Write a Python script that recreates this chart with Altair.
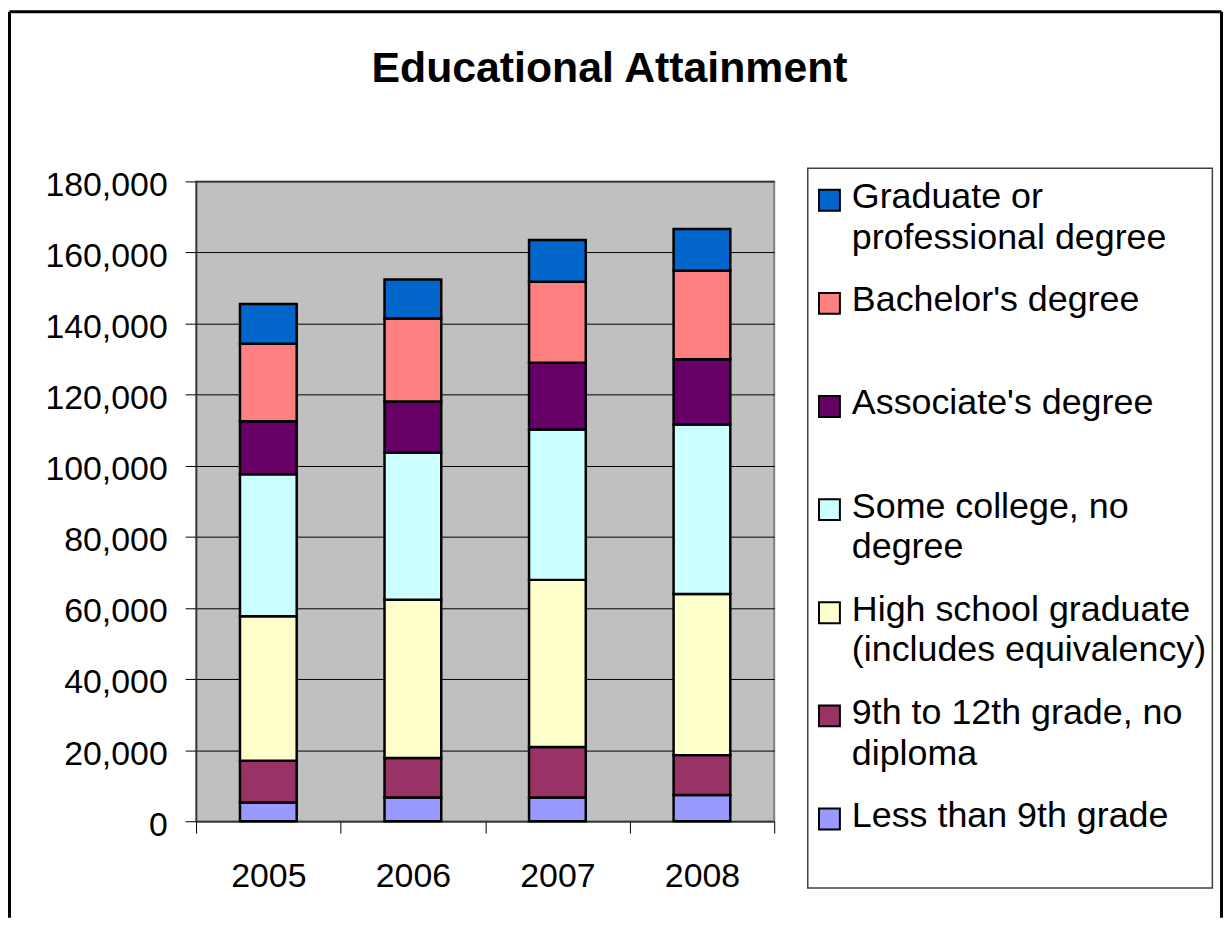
import altair as alt
import pandas as pd

FONT = "Liberation Sans, Arial, sans-serif"

years = ["2005", "2006", "2007", "2008"]

categories = [
    "Less than 9th grade",
    "9th to 12th grade, no diploma",
    "High school graduate (includes equivalency)",
    "Some college, no degree",
    "Associate's degree",
    "Bachelor's degree",
    "Graduate or professional degree",
]

less_than_9th = [5300, 6700, 6700, 7400]
grade_9_to_12 = [11700, 11100, 14200, 11200]
high_school = [40700, 44500, 47000, 45300]
some_college = [39900, 41400, 42300, 47700]
associate = [14900, 14400, 18800, 18400]
bachelor = [21800, 23300, 22800, 24900]
graduate = [11200, 11000, 11700, 11700]

series = [less_than_9th, grade_9_to_12, high_school, some_college,
          associate, bachelor, graduate]

colors = ["#9999FF", "#993366", "#FFFFCC", "#CCFFFF",
          "#660066", "#FF8080", "#0066CC"]

legend_text = [
    "Less than 9th grade",
    "9th to 12th grade, no\ndiploma",
    "High school graduate\n(includes equivalency)",
    "Some college, no\ndegree",
    "Associate's degree",
    "Bachelor's degree",
    "Graduate or\nprofessional degree",
]

y_ticks = list(range(0, 180001, 20000))

rows = []
for ci, (cat, vals) in enumerate(zip(categories, series)):
    for y, v in zip(years, vals):
        rows.append({"year": y, "category": cat, "value": v, "ord": ci})
df = pd.DataFrame(rows)

leg = pd.DataFrame({
    "category": categories,
    "label": legend_text,
    "idx": [6 - i for i in range(len(categories))],
})

color_scale = alt.Scale(domain=categories, range=colors)

bars = alt.Chart(df).mark_bar(size=57, stroke="black", strokeWidth=2.5).encode(
    x=alt.X("year:N", title=None, sort=years,
            scale=alt.Scale(paddingInner=0, paddingOuter=0),
            axis=alt.Axis(labelAngle=0, tickBand="extent", tickSize=12,
                          labelPadding=27, labelFontSize=34, labelFont=FONT,
                          labelColor="black", tickColor="black",
                          domainColor="#333333", domainWidth=1.5, grid=False)),
    y=alt.Y("value:Q", title=None, stack="zero",
            scale=alt.Scale(domain=[0, 180000], nice=False),
            axis=alt.Axis(values=y_ticks, format=",.0f", tickSize=11,
                          labelPadding=18, labelFontSize=34, labelFont=FONT,
                          labelColor="black", tickColor="black", labelOffset=4,
                          domainColor="#333333", domainWidth=1.5,
                          grid=True, gridColor="black", gridWidth=1)),
    color=alt.Color("category:N", scale=color_scale, legend=None),
    order=alt.Order("ord:Q", sort="ascending"),
)

leg_y = alt.Y("idx:Q", axis=None,
              scale=alt.Scale(domain=[0, 6], range=[19, 640.7], nice=False, zero=False))

leg_sq = alt.Chart(leg).mark_square(size=441, stroke="black", strokeWidth=2,
                                    opacity=1).encode(
    x=alt.value(636.5),
    y=leg_y,
    color=alt.Color("category:N", scale=color_scale, legend=None),
)

leg_txt = alt.Chart(leg).mark_text(align="left", baseline="alphabetic", dy=8,
                                   fontSize=36, font=FONT, color="black",
                                   lineBreak="\n", lineHeight=41).encode(
    x=alt.value(659),
    y=leg_y,
    text="label:N",
)

one = pd.DataFrame({"k": [0]})

leg_box = alt.Chart(one).mark_rect(fillOpacity=0, stroke="#404040",
                                   strokeWidth=1.5).encode(
    x=alt.value(614.7), x2=alt.value(1021.3),
    y=alt.value(-13.3), y2=alt.value(710),
)

frame_left = alt.Chart(one).mark_rule(color="black", strokeWidth=3).encode(
    x=alt.value(-187.5), y=alt.value(-170.5), y2=alt.value(740))
frame_top = alt.Chart(one).mark_rule(color="black", strokeWidth=3).encode(
    x=alt.value(-187.5), x2=alt.value(1030.5), y=alt.value(-170.5))
frame_right = alt.Chart(one).mark_rule(color="black", strokeWidth=3).encode(
    x=alt.value(1030.5), y=alt.value(-170.5), y2=alt.value(740))

title = alt.Chart(one).mark_text(align="center", baseline="alphabetic",
                                 fontSize=43, fontWeight="bold", font=FONT,
                                 color="black").encode(
    x=alt.value(415.5), y=alt.value(-100),
    text=alt.value("Educational Attainment"),
)

chart = alt.layer(
    bars, leg_box, leg_sq, leg_txt, frame_left, frame_top, frame_right, title
).resolve_scale(y="independent").properties(
    width=581, height=643, padding=0, background="white"
).configure_view(fill="#C0C0C0", stroke="#808080", strokeWidth=2)

chart.save("out.html", embed_options={"renderer": "svg", "actions": False})
